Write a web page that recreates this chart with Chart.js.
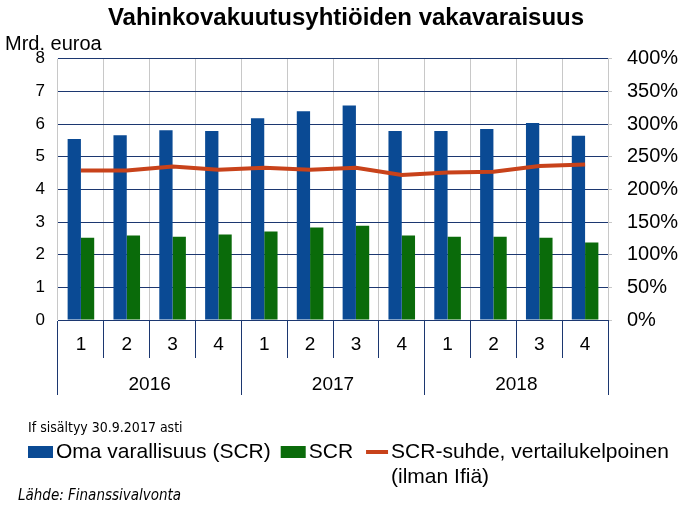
<!DOCTYPE html>
<html>
<head>
<meta charset="utf-8">
<script src="https://cdn.jsdelivr.net/npm/chart.js@4/dist/chart.umd.min.js"></script>
<style>
  html, body { margin: 0; padding: 0; background: #fff; }
  #wrap { width: 687px; height: 507px; }
</style>
</head>
<body>
<div id="wrap"><canvas id="chart" width="687" height="507"></canvas></div>
<script>
// data
var quarters = ['1', '2', '3', '4', '1', '2', '3', '4', '1', '2', '3', '4'];
var years = ['2016', '2017', '2018'];
var omaVarallisuus = [5.54, 5.66, 5.81, 5.79, 6.18, 6.39, 6.57, 5.79, 5.79, 5.85, 6.03, 5.64];
var scr = [2.52, 2.59, 2.55, 2.62, 2.71, 2.83, 2.89, 2.59, 2.55, 2.55, 2.52, 2.37];
var scrSuhde = [229, 229, 235, 230, 233, 230, 233, 222, 226, 227, 236, 238];

var navy = '#1c3770';
var lightGrid = '#c8c8c8';

Chart.defaults.font.family = "'Liberation Sans', Arial, sans-serif";
Chart.defaults.color = '#000';

// legend, note and source under the axes
var bottomTexts = {
    id: 'bottomTexts',
    afterDraw: function (chart) {
        var ctx = chart.ctx;
        ctx.save();
        ctx.fillStyle = '#000';
        ctx.textBaseline = 'middle';
        ctx.textAlign = 'left';

        ctx.font = "14px 'Liberation Sans Narrow', 'DejaVu Sans Condensed', sans-serif";
        ctx.fillText('If sisältyy 30.9.2017 asti', 28, 428);

        ctx.font = "21px 'Liberation Sans', Arial, sans-serif";
        var x = 28, y = 452;
        chart.data.datasets.forEach(function (ds) {
            if (ds.type === 'line') {
                ctx.strokeStyle = ds.borderColor;
                ctx.lineWidth = 4;
                ctx.beginPath();
                ctx.moveTo(x + 3, y);
                ctx.lineTo(x + 25, y);
                ctx.stroke();
            } else {
                ctx.fillStyle = ds.backgroundColor;
                ctx.fillRect(x, y - 6, 25, 12);
            }
            x += 28;
            ctx.fillStyle = '#000';
            var lines = [].concat(ds.label);
            lines.forEach(function (t, i) {
                ctx.fillText(t, x, y + i * 25);
            });
            x += ctx.measureText(lines[0]).width + 10;
        });

        ctx.font = "italic 15px 'Liberation Sans Narrow', 'DejaVu Sans Condensed', sans-serif";
        ctx.fillText('Lähde: Finanssivalvonta', 18, 496);
        ctx.restore();
    }
};

var chart = new Chart(document.getElementById('chart'), {
    data: {
        labels: quarters,
        datasets: [
            {
                type: 'bar',
                label: 'Oma varallisuus (SCR)',
                data: omaVarallisuus,
                yAxisID: 'y',
                backgroundColor: '#0a4a94',
                barPercentage: 1,
                categoryPercentage: 0.58,
                order: 2
            },
            {
                type: 'bar',
                label: 'SCR',
                data: scr,
                yAxisID: 'y',
                backgroundColor: '#0a6b0a',
                barPercentage: 1,
                categoryPercentage: 0.58,
                order: 2
            },
            {
                type: 'line',
                label: ['SCR-suhde, vertailukelpoinen', '(ilman Ifiä)'],
                data: scrSuhde,
                yAxisID: 'yRight',
                borderColor: '#c8421a',
                borderWidth: 4,
                pointRadius: 0,
                tension: 0,
                order: 1
            }
        ]
    },
    options: {
        responsive: false,
        animation: false,
        layout: { padding: { left: 5, right: 0, top: 0, bottom: 112 } },
        plugins: {
            legend: { display: false },
            tooltip: { enabled: false },
            title: {
                display: true,
                text: 'Vahinkovakuutusyhtiöiden vakavaraisuus',
                font: { size: 24, weight: 'bold' },
                color: '#000',
                padding: { top: 4, bottom: 0 }
            },
            subtitle: {
                display: true,
                text: 'Mrd. euroa',
                align: 'start',
                font: { size: 20 },
                color: '#000',
                padding: { top: 0, bottom: 2 }
            }
        },
        scales: {
            x: {
                type: 'category',
                labels: quarters,
                position: 'bottom',
                weight: 1,
                offset: true,
                grid: { offset: true, color: lightGrid, tickColor: navy, tickLength: 38 },
                border: { color: navy },
                ticks: { padding: -25, font: { size: 19 }, maxRotation: 0, autoSkip: false },
                afterFit: function (s) { s.height = 38; }
            },
            xYear: {
                type: 'category',
                labels: years,
                position: 'bottom',
                weight: 2,
                offset: true,
                grid: { offset: true, drawOnChartArea: false, tickColor: navy, tickLength: 37 },
                border: { display: false },
                ticks: { padding: -22, font: { size: 19 }, maxRotation: 0 },
                afterFit: function (s) { s.height = 37; }
            },
            y: {
                position: 'left',
                min: 0,
                max: 8,
                ticks: { stepSize: 1, padding: 13, font: { size: 17 } },
                grid: { color: navy, drawTicks: false },
                border: { display: false },
                afterFit: function (s) { s.width = 53; }
            },
            yRight: {
                position: 'right',
                min: 0,
                max: 400,
                ticks: {
                    stepSize: 50,
                    padding: 15,
                    font: { size: 20 },
                    callback: function (v) { return v + '%'; }
                },
                grid: { drawOnChartArea: false, color: lightGrid, tickLength: 4 },
                border: { display: false },
                afterFit: function (s) { s.width = 79; }
            }
        }
    },
    plugins: [bottomTexts]
});
</script>
</body>
</html>
